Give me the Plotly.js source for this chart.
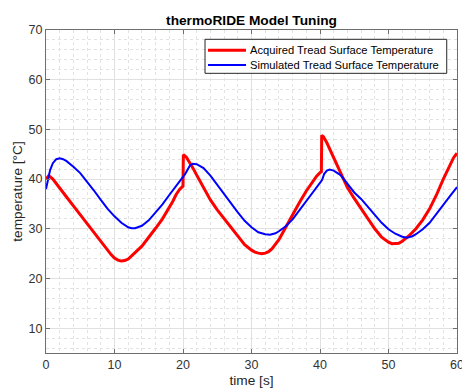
<!DOCTYPE html>
<html>
<head>
<meta charset="utf-8">
<script src="https://cdn.plot.ly/plotly-3.0.1.min.js"></script>
<style>html,body{margin:0;padding:0;background:#fff;}#chart{width:462px;height:392px;}</style>
</head>
<body>
<div id="chart"></div>
<script>
// Acquired tread surface temperature (red)
const acqTime = [0,0.4,1,2,3,4,5,6,7,8,9,9.5,10,10.5,11,11.5,12,12.5,13,14,15,16,17,18,18.5,19,19.5,20,20.05,20.5,21,21.5,22,22.5,23,24,25,26,27,28,29,30,30.5,31,31.5,32,32.5,33,34,35,36,37,38,39,39.5,40,40.2,40.25,40.5,41,41.5,42,42.5,43,43.5,44,45,46,47,48,49,49.5,50,50.5,51,51.5,52,53,54,55,56,57,58,59,59.5,60];
const acqTemp = [40.0,40.7,40.0,38.3,36.4,34.6,32.8,31.0,29.3,27.5,25.6,24.8,24.1,23.7,23.5,23.6,23.9,24.5,25.2,26.5,28.2,30.1,32.0,34.2,35.5,36.9,37.9,38.6,44.9,44.4,43.3,42.1,40.8,39.6,38.3,35.8,33.8,32.0,30.2,28.4,26.8,25.7,25.3,25.1,25.0,25.1,25.4,26.0,27.8,30.3,32.9,35.3,37.6,39.6,40.6,41.3,41.5,48.8,48.5,47.3,45.8,44.4,42.8,41.1,39.6,38.3,36.1,34.1,32.0,30.0,28.3,27.7,27.3,27.0,27.0,27.1,27.5,28.6,30.0,31.8,34.0,36.8,40.0,43.0,44.3,45.2];
// Simulated tread surface temperature (blue)
const simTime = [0,0.3,0.6,1,1.5,2,2.5,3,4,5,6,7,8,9,10,11,12,12.5,13,14,15,16,17,18,19,20,20.3,21,21.4,22,23,24,25,26,27,28,29,30,31,32,32.7,33.5,34,35,36,37,38,39,40,40.3,40.6,41,41.4,42,43,44,45,46,47,48,49,50,51,52,52.7,53.5,54,55,56,57,58,59,60];
const simTemp = [38.0,40.0,41.8,43.2,44.0,44.2,44.0,43.6,42.5,41.2,39.5,37.7,35.8,34.0,32.5,31.2,30.3,30.1,30.1,30.6,31.7,33.2,34.9,36.8,38.6,40.3,41.0,42.7,43.1,43.0,42.2,40.7,38.8,37.0,35.2,33.3,31.6,30.3,29.3,28.9,28.8,29.1,29.5,30.5,31.9,33.7,35.5,37.4,39.2,39.8,41.0,41.7,41.9,41.7,40.8,39.0,37.3,36.0,34.5,32.8,31.2,29.9,29.0,28.4,28.2,28.5,28.9,29.9,31.2,32.9,34.8,36.6,38.4];

const seriesNames = ['Acquired Tread Surface Temperature','Simulated Tread Surface Temperature'];
const seriesColors = ['#ff0000', '#0000ff'];
const seriesWidths = [3, 2];
const xTicks = [0,10,20,30,40,50,60];
const yTicks = [10,20,30,40,50,60,70];

const FONT = 'Liberation Sans, Arial, Helvetica, sans-serif';
const axisCommon = {
  showline: true, mirror: 'ticks', linecolor: '#6e6e6e', linewidth: 1,
  ticks: 'inside', ticklen: 4, tickcolor: '#6e6e6e', tickwidth: 1,
  showgrid: true, gridcolor: '#e0e0e0', gridwidth: 1,
  zeroline: false, ticklabeloverflow: 'allow',
  tickfont: {family: FONT, size: 12.5, color: '#333333'},
  minor: {showgrid: true, gridcolor: '#e2e2e2', griddash: 'dot', gridwidth: 1, ticks: ''}
};

const data = seriesNames.map((name, i) => ({
  x: i === 0 ? acqTime : simTime,
  y: i === 0 ? acqTemp : simTemp,
  name: name, type: 'scatter', mode: 'lines', showlegend: false,
  line: {color: seriesColors[i], width: seriesWidths[i]}
}));

// Legend drawn as a boxed key (paper coordinates)
const legBox = {x0: 0.3869, x1: 0.975, y0: 0.8659, y1: 0.9712};
const legRows = [0.9372, 0.8916];
const shapes = [{type: 'rect', xref: 'paper', yref: 'paper', x0: legBox.x0, x1: legBox.x1, y0: legBox.y0, y1: legBox.y1,
                 line: {color: '#262626', width: 1}, fillcolor: '#ffffff', layer: 'above'}];
const annotations = [];
seriesNames.forEach((name, i) => {
  shapes.push({type: 'line', xref: 'paper', yref: 'paper', x0: 0.3942, x1: 0.4866, y0: legRows[i], y1: legRows[i],
               line: {color: seriesColors[i], width: seriesWidths[i]}, layer: 'above'});
  annotations.push({xref: 'paper', yref: 'paper', x: 0.4915, y: legRows[i], xanchor: 'left', yanchor: 'middle',
                    text: name, showarrow: false, font: {family: FONT, size: 11.2, color: '#000000'}});
});

const layout = {
  width: 462, height: 392,
  margin: {l: 46, r: 5, t: 30, b: 39},
  paper_bgcolor: '#ffffff', plot_bgcolor: '#ffffff',
  font: {family: FONT, color: '#262626'},
  title: {text: 'thermoRIDE Model Tuning', font: {family: FONT, size: 13.7, weight: 'bold', color: '#000000'},
          x: 0.5, xref: 'paper', xanchor: 'center', y: 1 - 20.5/392, yref: 'container', yanchor: 'middle'},
  xaxis: Object.assign({}, axisCommon, {
    range: [0, 60], tickvals: xTicks, ticktext: xTicks.map(String),
    minor: Object.assign({}, axisCommon.minor, {dtick: 2, tick0: 0}),
    title: {text: 'time [s]', font: {family: FONT, size: 13.7, color: '#262626'}, standoff: 4}
  }),
  yaxis: Object.assign({}, axisCommon, {
    range: [5, 70], tickvals: yTicks, ticktext: yTicks.map(String),
    minor: Object.assign({}, axisCommon.minor, {dtick: 2, tick0: 0}),
    title: {text: 'temperature [°C]', font: {family: FONT, size: 13.7, color: '#262626'}, standoff: 2}
  }),
  showlegend: false,
  shapes: shapes,
  annotations: annotations
};

Plotly.newPlot('chart', data, layout, {staticPlot: true, displayModeBar: false});
</script>
</body>
</html>
